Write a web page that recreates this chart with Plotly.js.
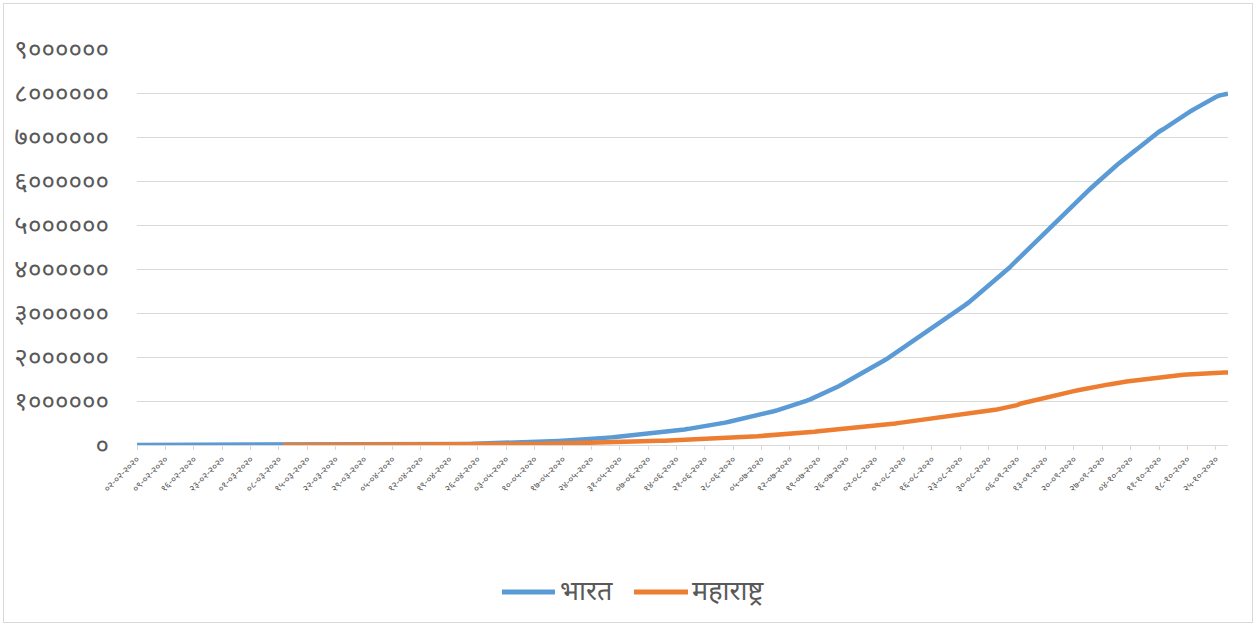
<!DOCTYPE html>
<html>
<head>
<meta charset="utf-8">
<script src="https://cdn.plot.ly/plotly-3.0.1.min.js"></script>
<style>
html,body{margin:0;padding:0;background:#fff;}
#wrap{position:relative;width:1258px;height:626px;}
#chart{position:absolute;left:0;top:0;width:1258px;height:626px;}
#frame{position:absolute;left:3px;top:3px;width:1248px;height:618px;border:1px solid #d9d9d9;pointer-events:none;}
</style>
</head>
<body>
<div id="wrap"><div id="chart"></div><div id="frame"></div></div>
<script>
// Series names
const seriesNames = ["भारत", "महाराष्ट्र"];
const seriesColors = ["#5B9BD5", "#ED7D31"];
const startDate = "2020-02-02";

// India cumulative cases, daily from 02-02-2020
const india = [
2,3,3,3,3,3,3,3,3,3,3,3,3,3,3,3,3,3,3,3,3,3,3,3,3,3,3,3,
3,5,6,28,30,31,34,39,48,63,71,81,91,102,112,126,146,171,198,256,334,403,497,571,657,730,883,1019,1139,1326,1635,
2059,2545,3105,3684,4293,4777,5350,5915,6728,7599,8446,9205,10454,11487,12371,13432,14425,15999,17496,18985,20471,21700,23452,25148,26917,28814,30256,31787,33232,35043,
37257,39699,42505,46437,49400,52987,56351,59695,62808,67161,70768,74292,78055,81997,85784,90648,95698,100328,106475,112028,118226,124794,131423,138536,144950,150793,158086,165386,173491,181827,190609,
198370,207191,216824,226713,236184,246622,257486,265928,276146,286605,297535,308993,320922,332424,343091,354065,366946,380532,395048,410461,425282,440215,456183,473105,490401,508953,528859,548318,566840,585493,
604641,625544,648315,673165,697413,719665,742417,767296,793802,820916,849553,878254,906752,936181,968876,1003832,1038716,1077618,1118043,1155191,1193078,1238635,1288108,1337022,1385635,1435453,1482503,1531669,1583792,1638870,1695988,
1750723,1803695,1855745,1908254,1964536,2027074,2088611,2153010,2215074,2268675,2329638,2396637,2461190,2525922,2589682,2647663,2702681,2767253,2836925,2905825,2975701,3044940,3106348,3167323,3234474,3310234,3387500,3463972,3542733,3621245,3691166,
3769523,3853406,3936747,4023179,4113811,4204613,4280422,4370128,4465863,4562414,4659984,4754356,4846427,4930236,5020359,5118253,5214677,5308014,5400619,5487580,5562663,5646010,5732518,5818570,5903932,5992532,6074702,6145291,6225763,6312584,
6394068,6473544,6549373,6623815,6685082,6757131,6835655,6906151,6979423,7053806,7120538,7175880,7239389,7307097,7370468,7432680,7494551,7550273,7597063,7651107,7706946,7761312,7814682,7864811,7909959,7946429,7970322,7985203
];

// Maharashtra cumulative cases, daily from 02-02-2020 (no data before 09-03-2020)
const maharashtra = [
null,null,null,null,null,null,null,null,null,null,null,null,null,null,null,null,null,null,null,null,null,null,null,null,null,null,null,null,
null,null,null,null,null,null,null,null,
2,5,11,14,17,26,32,38,42,45,49,52,64,74,97,107,122,130,153,186,203,220,302,
335,423,490,635,748,868,1018,1135,1364,1574,1761,1982,2334,2684,2916,3202,3323,3651,4203,4669,5218,5649,6427,6817,7628,8068,8590,9318,9915,10498,
11506,12296,12974,14541,15525,16758,17974,19063,20228,22171,23401,24427,25922,27524,29100,30706,33053,35058,37136,39297,41642,44582,47190,50231,52667,54758,56948,59546,62228,65168,67655,
70013,72300,74860,77793,80229,82968,85975,88528,90787,94041,97648,101141,104568,107958,110744,113445,116752,120504,124331,128205,132075,135796,139010,142900,147741,152765,159133,164626,169883,174761,
180298,186626,192990,200064,206619,211987,217121,223724,230599,238461,246600,254427,260924,267665,275640,284281,292589,300937,310455,318695,327031,337607,347502,357117,366368,375799,383723,391440,400651,411798,422118,
431719,441228,450196,457956,468265,479779,490262,503084,515332,524513,535601,548313,560126,572734,584754,595865,604358,615477,628642,643289,657450,671942,682383,693398,703823,718711,733568,747995,764281,780689,792541,
808306,825739,843844,863062,883862,907212,943772,967349,990795,1015681,1037765,1060308,1077374,1097856,1121221,1145840,1167496,1188015,1208642,1224380,1242770,1263799,1284335,1300757,1321176,1339232,1351153,1366129,1380489,1400922,
1416513,1430861,1443409,1453653,1465911,1480489,1494809,1506018,1517434,1528226,1535315,1543837,1554389,1565290,1576062,1586321,1595381,1601365,1609516,1617658,1625197,1632544,1636961,1640020,1642665,1644028,1645766,1647668
];

// X tick labels (weekly)
const xTickLabels = [
"०२-०२-२०२०","०९-०२-२०२०","१६-०२-२०२०","२३-०२-२०२०","०१-०३-२०२०","०८-०३-२०२०","१५-०३-२०२०","२२-०३-२०२०","२९-०३-२०२०",
"०५-०४-२०२०","१२-०४-२०२०","१९-०४-२०२०","२६-०४-२०२०","०३-०५-२०२०","१०-०५-२०२०","१७-०५-२०२०","२४-०५-२०२०","३१-०५-२०२०",
"०७-०६-२०२०","१४-०६-२०२०","२१-०६-२०२०","२८-०६-२०२०","०५-०७-२०२०","१२-०७-२०२०","१९-०७-२०२०","२६-०७-२०२०",
"०२-०८-२०२०","०९-०८-२०२०","१६-०८-२०२०","२३-०८-२०२०","३०-०८-२०२०","०६-०९-२०२०","१३-०९-२०२०","२०-०९-२०२०","२७-०९-२०२०",
"०४-१०-२०२०","११-१०-२०२०","१८-१०-२०२०","२५-१०-२०२०"
];

// Y tick values & labels
const yTickVals = [0,1000000,2000000,3000000,4000000,5000000,6000000,7000000,8000000,9000000];
const yTickLabels = ["०","१००००००","२००००००","३००००००","४००००००","५००००००","६००००००","७००००००","८००००००","९००००००"];

// helpers
const devDigits = "०१२३४५६७८९";
function toAscii(s){ return s.split("").map(c => { const i = devDigits.indexOf(c); return i >= 0 ? String(i) : c; }).join(""); }
function labelToIso(s){ const p = toAscii(s).split("-"); return p[2] + "-" + p[1] + "-" + p[0]; }
function isoAdd(iso, n){ const d = new Date(iso + "T00:00:00Z"); d.setUTCDate(d.getUTCDate() + n); return d.toISOString().slice(0,10); }

const dates = india.map((_, i) => isoAdd(startDate, i));
const xTickVals = xTickLabels.map(labelToIso);

const FONT = "'Noto Sans Devanagari', 'Noto Sans', 'Lohit Devanagari', sans-serif";

// plot-area geometry (pixels) used for the custom bottom legend
const M = {l: 137, r: 30, t: 49, b: 181};
const W = 1258, H = 626;
const PW = W - M.l - M.r, PH = H - M.t - M.b;
const px2x = p => (p - M.l) / PW;
const py2y = p => (H - M.b - p) / PH;

const traces = [
  {x: dates, y: india, name: seriesNames[0], type: "scatter", mode: "lines",
   line: {color: seriesColors[0], width: 4.5}, connectgaps: false},
  {x: dates, y: maharashtra, name: seriesNames[1], type: "scatter", mode: "lines",
   line: {color: seriesColors[1], width: 4.5}, connectgaps: false}
];

// custom legend (longer keys like the original)
const legY = py2y(592);
const legendKeys = [{x0: 502, x1: 555, tx: 558}, {x0: 634, x1: 688, tx: 690}];
const shapes = legendKeys.map((k, i) => ({
  type: "line", xref: "paper", yref: "paper",
  x0: px2x(k.x0), x1: px2x(k.x1), y0: legY, y1: legY,
  line: {color: seriesColors[i], width: 5}
}));
const annotations = legendKeys.map((k, i) => ({
  xref: "paper", yref: "paper", x: px2x(k.tx), y: py2y(593),
  xanchor: "left", yanchor: "middle", showarrow: false,
  text: seriesNames[i], font: {size: 27, color: "#595959", family: FONT}
}));

const layout = {
  width: W, height: H,
  margin: M,
  paper_bgcolor: "#ffffff", plot_bgcolor: "#ffffff",
  font: {family: FONT, color: "#595959"},
  showlegend: false,
  shapes: shapes,
  annotations: annotations,
  xaxis: {
    type: "date", range: [dates[0], dates[dates.length-1]],
    tickmode: "array", tickvals: xTickVals, ticktext: xTickLabels,
    tickangle: -45, tickfont: {size: 9.5, color: "#595959", family: FONT},
    showgrid: false, zeroline: false,
    showline: true, linecolor: "#d9d9d9", linewidth: 1,
    ticks: "outside", ticklen: 4, tickcolor: "#d9d9d9", tickwidth: 1
  },
  yaxis: {
    range: [0, 9000000], tickmode: "array", tickvals: yTickVals, ticktext: yTickLabels,
    tickfont: {size: 26, color: "#595959", family: FONT},
    showgrid: true, gridcolor: "#d9d9d9", gridwidth: 1,
    zeroline: false, showline: false, ticks: "", ticklabelstandoff: 27
  }
};

Plotly.newPlot("chart", traces, layout, {displayModeBar: false, staticPlot: true});
</script>
</body>
</html>
